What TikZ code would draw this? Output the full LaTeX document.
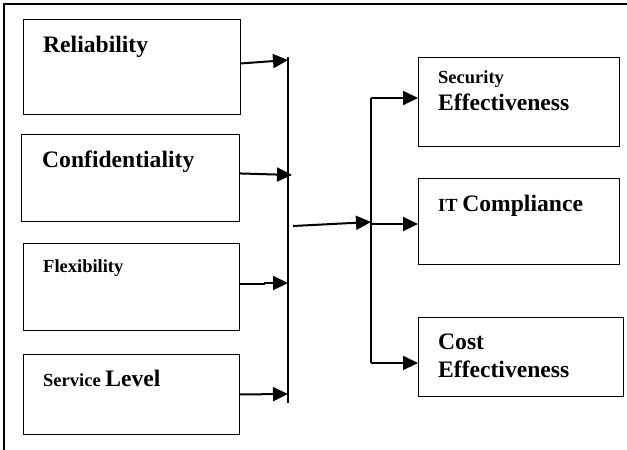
\documentclass[tikz,border=0pt]{standalone}
\usepackage{fontspec}
\setmainfont{Liberation Serif}
\usetikzlibrary{arrows.meta}
\newcommand{\bigtxt}{\fontsize{23.6}{28}\selectfont\bfseries}
\newcommand{\smalltxt}{\fontsize{18.5}{22}\selectfont\bfseries}
\begin{document}
\begin{tikzpicture}[x=1pt,y=-1pt,
  box/.style={draw=black,line width=0.9pt,anchor=north west,inner sep=0pt},
  lbl/.style={anchor=base west,inner sep=0pt},
  arr/.style={line width=2pt,-{Triangle[length=15pt,width=14pt]}},
  bar/.style={line width=2pt}]
\useasboundingbox (0,0) rectangle (627,450);
% outer frame (left and top edges)
\draw[line width=2pt] (4,450) -- (4,4) -- (627,4);

% factor boxes
\node[box,minimum width=217pt,minimum height=95pt] (rel) at (23,19) {};
\node[box,minimum width=218pt,minimum height=87pt] (conf) at (21,134) {};
\node[box,minimum width=216pt,minimum height=87pt] (flex) at (23,243) {};
\node[box,minimum width=216pt,minimum height=80pt] (serv) at (23,354) {};

% outcome boxes
\node[box,minimum width=201pt,minimum height=89pt] (sec) at (418,57) {};
\node[box,minimum width=201pt,minimum height=86pt] (itc) at (418,178) {};
\node[box,minimum width=205pt,minimum height=79pt] (cost) at (418,317) {};

% box texts
\node[lbl] (trel) at (43,52) {\bigtxt Reliability};
\node[lbl] (tconf) at (42,167) {\bigtxt Confidentiality};
\node[lbl] (tflex) at (43,272) {\smalltxt Flexibility};
\node[lbl] (tserv) at (43,386) {\smalltxt Service \bigtxt Level};
\node[lbl] (tsec1) at (438,83) {\smalltxt Security};
\node[lbl] (tsec2) at (438,110) {\bigtxt Effectiveness};
\node[lbl] (titc) at (438,211) {\smalltxt IT \bigtxt Compliance};
\node[lbl] (tcost1) at (438,349) {\bigtxt Cost};
\node[lbl] (tcost2) at (438,377) {\bigtxt Effectiveness};

% collecting bar and distributing bar
\coordinate (btop) at (288,57);
\coordinate (bbot) at (288,403);
\coordinate (dtop) at (371,98);
\coordinate (dmid) at (371,224);
\coordinate (dbot) at (371,363);
\draw[bar] (btop) -- (bbot);
\draw[bar] (dtop) -- (dbot);

% inputs into the collecting bar
\coordinate (b1) at (288,60);
\coordinate (b2) at (292,175);
\coordinate (fj) at (264,283);
\coordinate (b3) at (288,283);
\coordinate (b4) at (288,394);
\draw[arr] ([yshift=3.5pt]rel.east) -- (b1);
\draw[arr] ([yshift=4.5pt]conf.east) -- (b2);
\draw[line width=2pt] ([yshift=2.5pt]flex.east) -- ([yshift=2.5pt]flex.east -| fj) -- (fj);
\draw[arr] (fj) -- (b3);
\draw[arr] (serv.east) -- (b4);

% link between the bars
\coordinate (mstart) at (293,226);
\coordinate (mend) at (371,222);
\draw[arr] (mstart) -- (mend);

% outputs to the outcome boxes
\draw[arr] (dtop) -- (dtop -| sec.west);
\draw[arr] (dmid) -- (dmid -| itc.west);
\draw[arr] (dbot) -- (dbot -| cost.west);
\end{tikzpicture}
\end{document}
